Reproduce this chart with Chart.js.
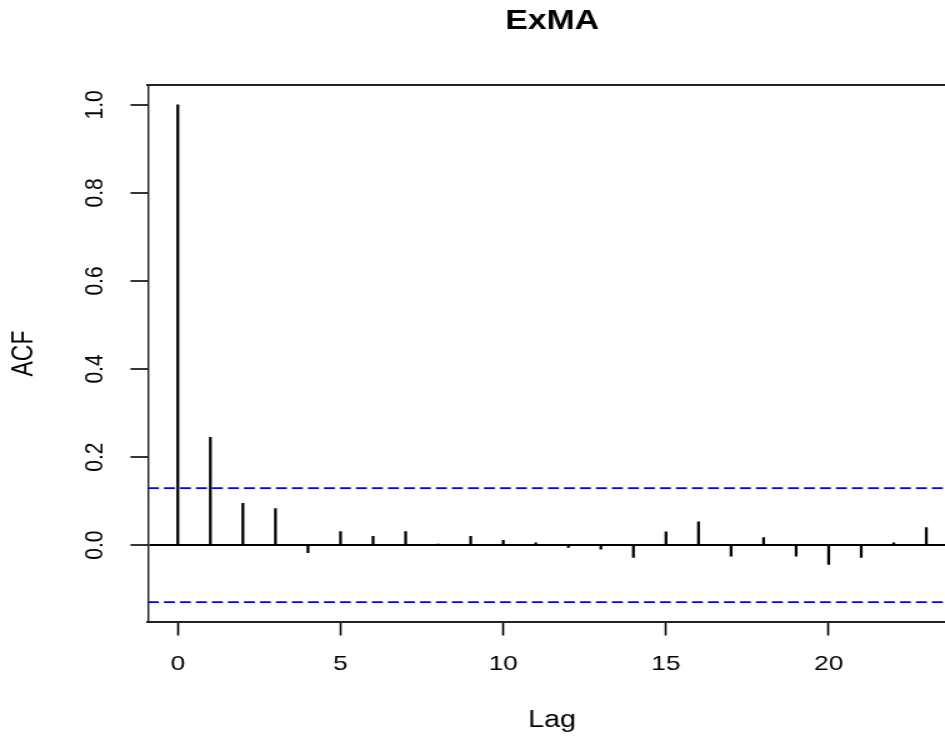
<!DOCTYPE html>
<html>
<head>
<meta charset="utf-8">
<script src="https://cdn.jsdelivr.net/npm/chart.js@4"></script>
<style>
  html, body { margin: 0; padding: 0; background: #fff; overflow: hidden; width: 945px; height: 736px; }
  /* the plot is laid out on a narrower canvas and widened horizontally */
  #wrap { width: 790px; height: 736px; transform: scaleX(1.25); transform-origin: 0 0; }
</style>
</head>
<body>
<div id="wrap"><canvas id="c" width="790" height="736"></canvas></div>
<script>
// autocorrelation of the ExMA series, lags 0..23
const lags = [0, 1, 2, 3, 4, 5, 6, 7, 8, 9, 10, 11, 12, 13, 14, 15, 16, 17, 18, 19, 20, 21, 22, 23];
const acfValues = [1.0, 0.245, 0.095, 0.083, -0.017, 0.031, 0.020, 0.031, 0.002, 0.020, 0.011, 0.005,
                   -0.005, -0.009, -0.028, 0.030, 0.053, -0.025, 0.017, -0.025, -0.044, -0.028, 0.005, 0.040];
// approximate 95% significance bounds
const confBounds = [0.1295, -0.1295];
const xTicks = [0, 5, 10, 15, 20];
const yTicks = [0.0, 0.2, 0.4, 0.6, 0.8, 1.0];

// axis limits widened by 4% on each side
const xPad = 0.04 * (Math.max(...lags) - Math.min(...lags));
const xMin = Math.min(...lags) - xPad;
const xMax = Math.max(...lags) + xPad;
const yLo = Math.min(...acfValues, ...confBounds);
const yHi = Math.max(...acfValues, ...confBounds);
const yPad = 0.04 * (yHi - yLo);
const yMin = yLo - yPad;
const yMax = yHi + yPad;

const FONT = "'Liberation Sans', Arial, sans-serif";

const boundSets = confBounds.map(b => ({
  type: 'line',
  data: [{ x: xMin, y: b }, { x: xMax, y: b }],
  borderColor: '#0000ff',
  borderWidth: 1.6,
  borderDash: [8.8, 4],
  pointRadius: 0,
  fill: false,
  order: 0
}));

new Chart(document.getElementById('c'), {
  type: 'bar',
  data: {
    datasets: [{
      type: 'bar',
      data: lags.map((l, i) => ({ x: l, y: acfValues[i] })),
      backgroundColor: '#000',
      borderWidth: 0,
      barThickness: 1.6,
      order: 1
    }, ...boundSets]
  },
  options: {
    responsive: false,
    animation: false,
    devicePixelRatio: 1,
    layout: { padding: { top: 0, left: 0, right: 25, bottom: 0 } },
    plugins: {
      legend: { display: false },
      tooltip: { enabled: false },
      title: {
        display: true,
        text: 'ExMA',
        fullSize: false,
        color: '#000',
        font: { family: FONT, size: 27, weight: 'bold', lineHeight: 1.2 },
        padding: { top: 5.8, bottom: 46.8 }
      }
    },
    scales: {
      x: {
        type: 'linear',
        position: 'bottom',
        min: xMin,
        max: xMax,
        offset: false,
        afterBuildTicks: s => { s.ticks = xTicks.map(v => ({ value: v })); },
        ticks: {
          autoSkip: false, minRotation: 0, maxRotation: 0, padding: 16,
          color: '#000', font: { family: FONT, size: 21 },
          callback: v => String(v)
        },
        grid: { drawOnChartArea: false, drawTicks: true, tickLength: 13.5, tickColor: '#000', tickWidth: 1.6, offset: false },
        border: { display: true, color: '#222', width: 2 },
        title: { display: true, text: 'Lag', color: '#000', font: { family: FONT, size: 23 }, padding: { top: 0, bottom: 2 } },
        afterFit: s => { s.height = 114; }
      },
      y: {
        type: 'linear',
        position: 'left',
        min: yMin,
        max: yMax,
        afterBuildTicks: s => { s.ticks = yTicks.map(v => ({ value: v })); },
        ticks: {
          autoSkip: false, minRotation: 90, maxRotation: 90, crossAlign: 'center', padding: 13.8,
          color: '#000', font: { family: FONT, size: 21 },
          callback: v => Number(v).toFixed(1)
        },
        grid: {
          drawOnChartArea: true,
          color: c => (c.tick && c.tick.value === 0 ? '#000' : 'rgba(0,0,0,0)'),
          lineWidth: 2,
          drawTicks: true, tickLength: 13.9, tickColor: '#000', tickWidth: 1.6
        },
        border: { display: true, color: '#222', width: 1.4 },
        title: { display: true, text: 'ACF', color: '#000', font: { family: FONT, size: 23 }, padding: { top: 5.4, bottom: 0 } },
        afterFit: s => { s.width = 118.3; }
      },
      xTop: {
        type: 'linear',
        position: 'top',
        min: xMin,
        max: xMax,
        offset: false,
        ticks: { display: false },
        grid: { display: false, drawTicks: false },
        border: { display: true, color: '#222', width: 2 },
        afterFit: s => { s.height = 0; }
      }
    }
  }
});
</script>
</body>
</html>
